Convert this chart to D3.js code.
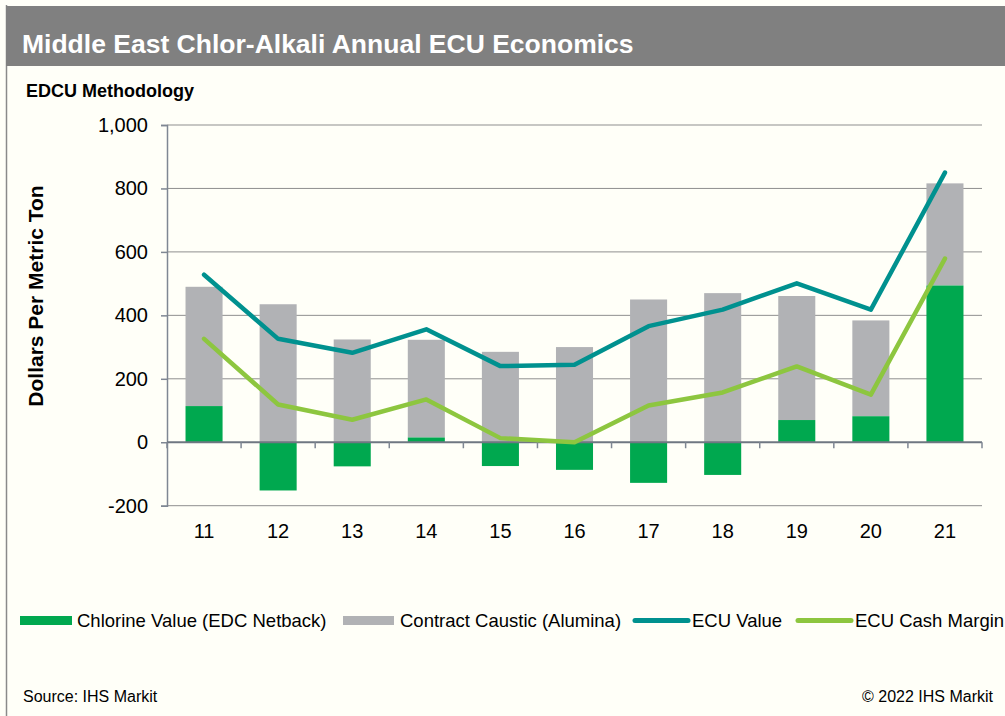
<!DOCTYPE html>
<meta charset="utf-8">
<script src="https://d3js.org/d3.v7.min.js"></script>
<style>
  body { margin: 0; background: #fffff8; }
  text { font-family: "Liberation Sans", Arial, sans-serif; }
</style>
<svg id="chart" width="1005" height="716"></svg>
<script>

// years on the x axis
var years = ["11", "12", "13", "14", "15", "16", "17", "18", "19", "20", "21"];

// stacked bars ($/metric ton)
var chlorineValue = [114, -152, -76, 15, -75, -87, -128, -103, 70, 82, 494];
var causticValue  = [376, 435, 324, 308, 285, 300, 450, 470, 391, 302, 322];

// lines
var ecuValue      = [528, 326, 282, 356, 240, 244, 366, 418, 501, 418, 850];
var ecuCashMargin = [326, 119, 71, 135, 13, 0, 116, 157, 239, 150, 579];

var yTicks = [-200, 0, 200, 400, 600, 800, 1000];

var colors = {
  chlorine: "#00a84f",
  caustic: "#b1b2b5",
  ecu: "#00918f",
  margin: "#8dc63f"
};

var svg = d3.select("#chart");

// background + frame
svg.append("rect").attr("width", 1005).attr("height", 716).attr("fill", "#fffff8");
svg.append("line")
  .attr("x1", 6.5).attr("x2", 6.5).attr("y1", 5).attr("y2", 716)
  .attr("stroke", "#8a8a8a").attr("stroke-width", 1.5);

// title bar
svg.append("rect")
  .attr("x", 6).attr("y", 6).attr("width", 999).attr("height", 60)
  .attr("fill", "#808080");
svg.append("text")
  .attr("x", 22).attr("y", 53)
  .attr("fill", "#fff")
  .attr("font-size", 26.5).attr("font-weight", "bold")
  .text("Middle East Chlor-Alkali Annual ECU Economics");

svg.append("text")
  .attr("x", 26).attr("y", 97)
  .attr("font-size", 18).attr("font-weight", "bold")
  .text("EDCU Methodology");

// scales
var x = d3.scaleBand()
  .domain(years)
  .range([167, 982])
  .paddingInner(0.5)
  .paddingOuter(0.25);

var y = d3.scaleLinear()
  .domain([-200, 1000])
  .range([505.7, 125]);

// gridlines
svg.append("g")
  .selectAll("line")
  .data(yTicks.filter(function(d) { return d !== 0; }))
  .enter()
  .append("line")
    .attr("x1", 167).attr("x2", 982)
    .attr("y1", function(d) { return y(d); })
    .attr("y2", function(d) { return y(d); })
    .attr("stroke", "#8f8f8f")
    .attr("stroke-width", 1);

// y axis
var fmt = d3.format(",");
var yAxis = svg.append("g")
  .attr("transform", "translate(167,0)")
  .call(d3.axisLeft(y)
    .tickValues(yTicks)
    .tickSize(6)
    .tickPadding(13)
    .tickFormat(function(d) { return fmt(d).replace("\u2212", "-"); }));
yAxis.select(".domain").attr("stroke", "#7f8793").attr("stroke-width", 1.5);
yAxis.selectAll(".tick line").attr("stroke", "#7f8793").attr("stroke-width", 1.5);
yAxis.selectAll(".tick text")
  .attr("font-family", "Liberation Sans, Arial, sans-serif")
  .attr("font-size", 20)
  .attr("fill", "#000");

// y axis title
svg.append("text")
  .attr("transform", "translate(43,296) rotate(-90)")
  .attr("text-anchor", "middle")
  .attr("font-size", 21).attr("font-weight", "bold")
  .text("Dollars Per Metric Ton");

// bars
var bars = svg.append("g");
years.forEach(function(yr, i) {
  var c = chlorineValue[i];
  var base = Math.max(0, c);
  bars.append("rect")
    .attr("x", x(yr)).attr("width", x.bandwidth())
    .attr("y", y(base + causticValue[i]))
    .attr("height", y(base) - y(base + causticValue[i]))
    .attr("fill", colors.caustic);
  bars.append("rect")
    .attr("x", x(yr)).attr("width", x.bandwidth())
    .attr("y", y(Math.max(0, c)))
    .attr("height", Math.abs(y(c) - y(0)))
    .attr("fill", colors.chlorine);
});

// x axis at zero with ticks between categories
var xAxisG = svg.append("g");
xAxisG.append("line")
  .attr("x1", 167).attr("x2", 982)
  .attr("y1", y(0)).attr("y2", y(0))
  .attr("stroke", "#6f7782").attr("stroke-width", 2);
var bounds = years.map(function(d) { return x(d) - x.step() * 0.25; });
bounds.push(982);
xAxisG.selectAll(".xt")
  .data(bounds)
  .enter()
  .append("line")
    .attr("x1", function(d) { return d; })
    .attr("x2", function(d) { return d; })
    .attr("y1", y(0)).attr("y2", y(0) + 6)
    .attr("stroke", "#7f8793").attr("stroke-width", 1.5);

svg.append("g")
  .selectAll("text")
  .data(years)
  .enter()
  .append("text")
    .attr("x", function(d) { return x(d) + x.bandwidth() / 2; })
    .attr("y", 538)
    .attr("text-anchor", "middle")
    .attr("font-size", 20)
    .text(function(d) { return d; });

// lines
var line = d3.line()
  .x(function(d, i) { return x(years[i]) + x.bandwidth() / 2; })
  .y(function(d) { return y(d); });

svg.append("path")
  .datum(ecuValue)
  .attr("d", line)
  .attr("fill", "none")
  .attr("stroke", colors.ecu)
  .attr("stroke-width", 4.5)
  .attr("stroke-linecap", "round")
  .attr("stroke-linejoin", "round");

svg.append("path")
  .datum(ecuCashMargin)
  .attr("d", line)
  .attr("fill", "none")
  .attr("stroke", colors.margin)
  .attr("stroke-width", 4.5)
  .attr("stroke-linecap", "round")
  .attr("stroke-linejoin", "round");

// legend
var legendItems = [
  {label: "Chlorine Value (EDC Netback)", color: colors.chlorine, type: "rect", x: 20, w: 52, tx: 77},
  {label: "Contract Caustic (Alumina)", color: colors.caustic, type: "rect", x: 343, w: 51, tx: 400},
  {label: "ECU Value", color: colors.ecu, type: "line", x: 635, w: 53, tx: 692},
  {label: "ECU Cash Margin", color: colors.margin, type: "line", x: 798, w: 53, tx: 855}
];

var legend = svg.append("g");
legendItems.forEach(function(d) {
  if (d.type === "rect") {
    legend.append("rect")
      .attr("x", d.x).attr("y", 616).attr("width", d.w).attr("height", 9)
      .attr("fill", d.color);
  } else {
    legend.append("line")
      .attr("x1", d.x).attr("x2", d.x + d.w)
      .attr("y1", 620.5).attr("y2", 620.5)
      .attr("stroke", d.color).attr("stroke-width", 5)
      .attr("stroke-linecap", "round");
  }
  legend.append("text")
    .attr("x", d.tx).attr("y", 627)
    .attr("font-size", 18.5)
    .text(d.label);
});

// footer
svg.append("text")
  .attr("x", 23).attr("y", 702)
  .attr("font-size", 16)
  .text("Source: IHS Markit");
svg.append("text")
  .attr("x", 993).attr("y", 702)
  .attr("text-anchor", "end")
  .attr("font-size", 16)
  .text("\u00a9 2022 IHS Markit");

</script>
